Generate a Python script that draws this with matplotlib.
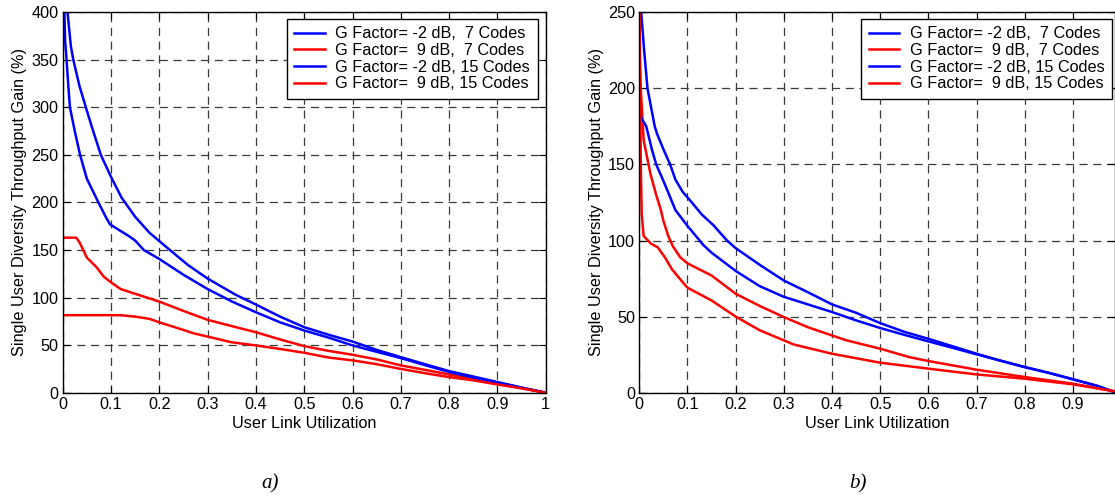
import matplotlib
matplotlib.use("Agg")
import matplotlib.pyplot as plt

plt.rcParams['font.family'] = ['Liberation Sans', 'DejaVu Sans']

labels = ["G Factor= -2 dB,  7 Codes", "G Factor=  9 dB,  7 Codes",
          "G Factor= -2 dB, 15 Codes", "G Factor=  9 dB, 15 Codes"]
colors = ["#0000ff", "#ff0000", "#0000ff", "#ff0000"]

# ---- panel a) ----
a_blue7_x = [0.008, 0.01, 0.017, 0.022, 0.035, 0.048, 0.06, 0.079, 0.1, 0.122, 0.15, 0.18, 0.222, 0.26,
             0.3, 0.358, 0.4, 0.45, 0.5, 0.55, 0.6, 0.65, 0.7, 0.75, 0.8, 0.85, 0.9, 0.95, 1.0]
a_blue7_y = [420, 400, 364, 350, 322, 300, 280, 250, 227, 205, 185, 168, 150, 134,
             120, 103, 92.7, 80, 68.9, 61, 53.8, 45, 37.4, 30, 22.7, 17, 11.2, 5.5, 0]
a_red7_x = [0, 0.028, 0.035, 0.05, 0.07, 0.085, 0.1, 0.12, 0.15, 0.2, 0.25, 0.3, 0.35, 0.4, 0.45,
            0.5, 0.55, 0.6, 0.65, 0.7, 0.75, 0.8, 0.85, 0.9, 0.95, 1.0]
a_red7_y = [163, 163, 158, 142, 132, 122, 116, 109, 104, 95.8, 86, 76.6, 70, 63.6, 56,
            49, 44, 39.9, 35, 28.7, 24, 19.2, 14, 9.4, 5, 0]
a_blue15_x = [0.003, 0.005, 0.008, 0.012, 0.015, 0.025, 0.036, 0.05, 0.074, 0.09, 0.098, 0.12, 0.136,
              0.15, 0.168, 0.2, 0.25, 0.3, 0.35, 0.4, 0.45, 0.5, 0.55, 0.6, 0.65, 0.7, 0.75, 0.8,
              0.85, 0.9, 0.95, 1.0]
a_blue15_y = [410, 370, 350, 320, 300, 275, 250, 225, 200, 184, 177, 170, 165,
              160, 150, 140.6, 124, 109, 96, 84.6, 74, 65.4, 58, 49.7, 43, 36.4, 29, 21.7,
              16, 10.5, 5, 0]
a_red15_x = [0, 0.12, 0.15, 0.18, 0.2, 0.25, 0.27, 0.3, 0.35, 0.4, 0.45, 0.5, 0.55, 0.6, 0.65,
             0.7, 0.75, 0.8, 0.85, 0.9, 0.95, 1.0]
a_red15_y = [81.5, 81.5, 80, 77.6, 74, 66, 62.6, 59, 53, 49.7, 46, 42, 37, 34, 30,
             25, 20.5, 16.4, 13, 8.7, 4.5, 0]

# ---- panel b) ----
b_blue7_x = [0, 0.004, 0.01, 0.017, 0.032, 0.037, 0.05, 0.064, 0.075, 0.09, 0.109, 0.13, 0.154, 0.182,
             0.2, 0.25, 0.3, 0.35, 0.4, 0.45, 0.5, 0.55, 0.6, 0.65, 0.7, 0.75, 0.8, 0.85, 0.9, 0.95, 0.985]
b_blue7_y = [280, 250, 225, 200, 175, 170, 160, 150, 140, 132, 125, 117, 110, 100,
             95, 84, 73.7, 66, 58, 52.5, 45.7, 40, 35.4, 30.5, 25.6, 21, 16.8, 13, 8.8, 4.5, 0.5]
b_red7_x = [0, 0.003, 0.009, 0.023, 0.035, 0.044, 0.05, 0.06, 0.07, 0.085, 0.1, 0.15, 0.2, 0.25,
            0.3, 0.35, 0.4, 0.43, 0.5, 0.56, 0.6, 0.7, 0.8, 0.9, 0.985]
b_red7_y = [228, 200, 166, 144, 130, 121, 113, 103, 96, 89, 85, 77, 65, 57,
            49.7, 43, 37.6, 34.4, 28.9, 23.4, 20.8, 15.1, 10.3, 5.9, 1]
b_blue15_x = [0, 0.005, 0.0145, 0.026, 0.035, 0.049, 0.075, 0.099, 0.133, 0.15, 0.2, 0.25, 0.3,
              0.35, 0.4, 0.45, 0.5, 0.55, 0.6, 0.65, 0.7, 0.75, 0.8, 0.85, 0.9, 0.95, 0.985]
b_blue15_y = [186, 180, 175, 160, 150, 140, 120, 110, 97, 92, 80, 70, 63,
              58, 53, 47.5, 42.5, 38, 33.7, 29.5, 25.2, 21, 16.8, 13, 8.8, 4.5, 0.5]
b_red15_x = [0, 0.002, 0.003, 0.005, 0.009, 0.024, 0.038, 0.053, 0.068, 0.09, 0.1, 0.15, 0.2, 0.25,
             0.3, 0.32, 0.4, 0.5, 0.6, 0.7, 0.8, 0.9, 0.985]
b_red15_y = [270, 200, 150, 117, 103, 98, 95.6, 89, 81, 72.6, 69, 60.6, 50, 41,
             34.4, 31.7, 25.6, 19.7, 15.8, 12, 9.2, 5.5, 1]

a_series = [(a_blue7_x, a_blue7_y), (a_red7_x, a_red7_y), (a_blue15_x, a_blue15_y), (a_red15_x, a_red15_y)]
b_series = [(b_blue7_x, b_blue7_y), (b_red7_x, b_red7_y), (b_blue15_x, b_blue15_y), (b_red15_x, b_red15_y)]

W, H = 1115, 497
fig = plt.figure(figsize=(W / 100, H / 100), dpi=100)
FS = 11.7


def px_axes(x0, y0, x1, y1):
    return fig.add_axes([x0 / W, 1 - y1 / H, (x1 - x0) / W, (y1 - y0) / H])


def style(ax, xmax, ymax, xticks, xticklabels, yticks):
    ax.set_xlim(0, xmax)
    ax.set_ylim(0, ymax)
    ax.set_xticks(xticks)
    ax.set_xticklabels(xticklabels)
    ax.set_yticks(yticks)
    ax.tick_params(direction='in', length=5, width=0.8, top=True, right=True,
                   labelsize=FS, pad=3, colors='black')
    ax.grid(True, color='#3a3a3a', linestyle=(0, (6.5, 4.5)), linewidth=0.9)
    for s in ax.spines.values():
        s.set_linewidth(1.0)
        s.set_zorder(5)
    ax.set_xlabel("User Link Utilization", fontsize=FS, labelpad=3)
    ax.set_ylabel("Single User Diversity Throughput Gain (%)", fontsize=FS, labelpad=3)


def add_legend(ax, right_px):
    leg = ax.legend(loc='upper right', bbox_to_anchor=(right_px / W, 1 - 19 / H),
                    bbox_transform=fig.transFigure, fontsize=FS, fancybox=False,
                    edgecolor='black', framealpha=1, borderpad=0.45, labelspacing=0.1,
                    handlelength=1.9, handletextpad=0.65, borderaxespad=0)
    leg.get_frame().set_linewidth(1.0)
    return leg


ax1 = px_axes(62.7, 12.3, 545.7, 392.7)
for (x, y), c, lab in zip(a_series, colors, labels):
    ax1.plot(x, y, color=c, lw=1.8, label=lab)
xt = [i / 10 for i in range(11)]
style(ax1, 1.0, 400, xt, ["0"] + [f"{v:.1f}" for v in xt[1:-1]] + ["1"], range(0, 401, 50))
add_legend(ax1, 537.5)

ax2 = px_axes(639.3, 12.3, 1115, 392.7)
for (x, y), c, lab in zip(b_series, colors, labels):
    ax2.plot(x, y, color=c, lw=1.8, label=lab)
xt2 = [i / 10 for i in range(10)]
style(ax2, 0.987, 250, xt2, ["0"] + [f"{v:.1f}" for v in xt2[1:]], range(0, 251, 50))
add_legend(ax2, 1112)

fig.text(270 / W, 1 - 484 / H, "a)", fontsize=15, style='italic',
         family=['Liberation Serif', 'DejaVu Serif'], ha='center', va='center')
fig.text(858 / W, 1 - 484 / H, "b)", fontsize=15, style='italic',
         family=['Liberation Serif', 'DejaVu Serif'], ha='center', va='center')

fig.savefig("out.png", dpi=100, facecolor='white')
